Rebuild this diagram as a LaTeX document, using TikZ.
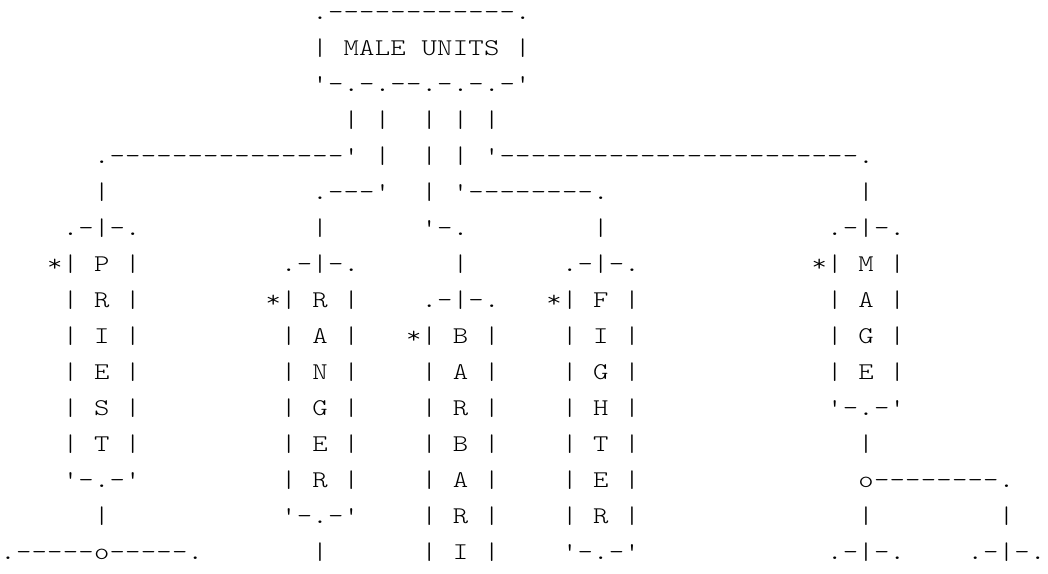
\documentclass[tikz,border=0pt]{standalone}
\usepackage{fontspec}
\newfontfamily\artfont[FakeStretch=1.22]{lmmonolt10-regular.otf}

% character grid: column pitch, row pitch and origin (in pt)
\newcommand\colpitch{15.6}
\newcommand\rowpitch{36}
\newcommand\colzero{8.1}
\newcommand\rowzero{19}

\newcount\artcol
% \seg{row}{first column}{characters}; "_" leaves a cell empty
\newcommand\seg[3]{\def\artrow{#1}\artcol=#2\relax\artscan#3\relax}
\def\artscan#1{%
  \ifx#1\relax\else
    \ifx#1_\else\artglyph{#1}\fi
    \advance\artcol by 1\relax
    \expandafter\artscan
  \fi}
\newcommand\artglyph[1]{%
  \pgfmathsetmacro\ax{\colzero+\colpitch*\the\artcol}%
  \pgfmathsetmacro\ay{-\rowzero-\rowpitch*(\artrow-1)}%
  \node[glyph] (g\artrow-\the\artcol) at (\ax pt,\ay pt) {#1};}
% \dashrun{row}{from column}{to column}
\newcommand\dashrun[3]{%
  \foreach \k in {#2,...,#3}{\artcol=\k\relax\def\artrow{#1}\artglyph{-}}}

\begin{document}
\begin{tikzpicture}[
  glyph/.style={inner sep=0pt, outer sep=0pt, anchor=base,
    font=\artfont\fontsize{24pt}{24pt}\selectfont, text=black}]
\fill[white] (0,0) rectangle (1048pt,-573pt);
\useasboundingbox (0,0) rectangle (1048pt,-573pt);

% root box
\seg{1}{20}{.------------.}
\seg{2}{20}{|_MALE_UNITS_|}
\seg{3}{20}{'-.-.--.-.-.-'}
\seg{4}{22}{|_|__|_|_|}

% branch lines
\seg{5}{6}{.}\dashrun{5}{7}{21}\seg{5}{22}{'_|__|_|_'}\dashrun{5}{32}{54}\seg{5}{55}{.}
\seg{6}{6}{|}\seg{6}{20}{.---'__|_'}\dashrun{6}{30}{37}\seg{6}{38}{.}\seg{6}{55}{|}
\seg{7}{4}{.-|-.}\seg{7}{20}{|}\seg{7}{27}{'-.}\seg{7}{38}{|}\seg{7}{53}{.-|-.}

% unit columns
\seg{8}{3}{*|_P_|}\seg{8}{18}{.-|-.}\seg{8}{29}{|}\seg{8}{36}{.-|-.}\seg{8}{52}{*|_M_|}
\seg{9}{4}{|_R_|}\seg{9}{17}{*|_R_|}\seg{9}{27}{.-|-.}\seg{9}{35}{*|_F_|}\seg{9}{53}{|_A_|}
\seg{10}{4}{|_I_|}\seg{10}{18}{|_A_|}\seg{10}{26}{*|_B_|}\seg{10}{36}{|_I_|}\seg{10}{53}{|_G_|}
\seg{11}{4}{|_E_|}\seg{11}{18}{|_N_|}\seg{11}{27}{|_A_|}\seg{11}{36}{|_G_|}\seg{11}{53}{|_E_|}
\seg{12}{4}{|_S_|}\seg{12}{18}{|_G_|}\seg{12}{27}{|_R_|}\seg{12}{36}{|_H_|}\seg{12}{53}{'-.-'}
\seg{13}{4}{|_T_|}\seg{13}{18}{|_E_|}\seg{13}{27}{|_B_|}\seg{13}{36}{|_T_|}\seg{13}{55}{|}
\seg{14}{4}{'-.-'}\seg{14}{18}{|_R_|}\seg{14}{27}{|_A_|}\seg{14}{36}{|_E_|}\seg{14}{55}{o}\dashrun{14}{56}{63}\seg{14}{64}{.}
\seg{15}{6}{|}\seg{15}{18}{'-.-'}\seg{15}{27}{|_R_|}\seg{15}{36}{|_R_|}\seg{15}{55}{|}\seg{15}{64}{|}
\seg{16}{0}{.-----o-----.}\seg{16}{20}{|}\seg{16}{27}{|_I_|}\seg{16}{36}{'-.-'}\seg{16}{53}{.-|-.}\seg{16}{62}{.-|-.}
\end{tikzpicture}
\end{document}
